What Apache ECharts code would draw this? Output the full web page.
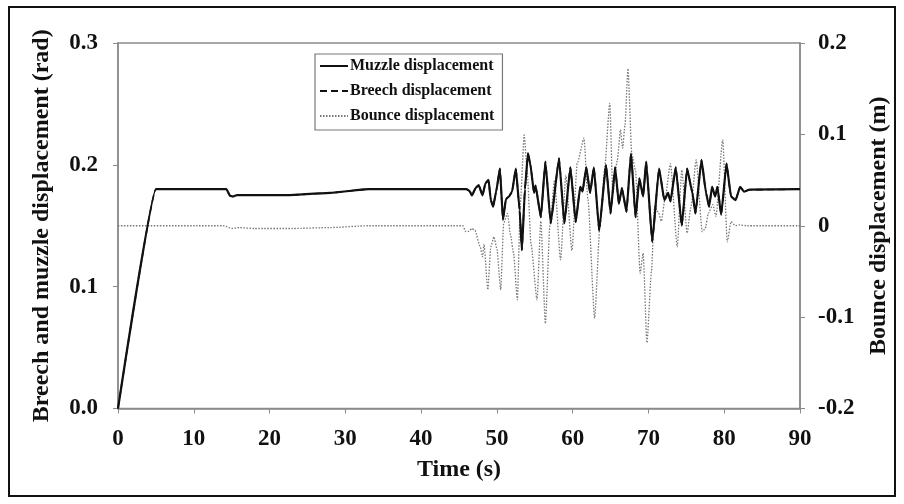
<!DOCTYPE html>
<html>
<head>
<meta charset="utf-8">
<script src="https://cdn.jsdelivr.net/npm/echarts@6/dist/echarts.min.js"></script>
<style>html,body{margin:0;padding:0;background:#fff;}#c{width:904px;height:504px;}</style>
</head>
<body>
<div id="c"></div>
<script>
// ---- data ----
var seriesNames = ['Muzzle displacement', 'Breech displacement', 'Bounce displacement'];
var xTicks = [0, 10, 20, 30, 40, 50, 60, 70, 80, 90];
var leftTicks = ['0.0', '0.1', '0.2', '0.3'];
var rightTicks = ['-0.2', '-0.1', '0', '0.1', '0.2'];

var muzzleTime = [0, 5.0, 14.3, 14.8, 15.2, 15.7, 22.7, 28, 33, 46.0, 46.4, 46.7, 47.2, 47.6, 48.1, 48.5, 48.9, 49.2, 49.5, 49.9,
  50.4, 50.8, 51.2, 51.6, 52.0, 52.5, 53.0, 53.3, 53.7, 54.1, 54.4, 54.9, 55.1, 55.8, 56.4, 57.1, 58.2, 58.9, 59.7, 60.4,
  61.0, 61.3, 61.8, 62.3, 62.8, 63.5, 64.4, 65.0, 65.6, 66.1, 66.5, 67.1, 67.7, 68.3, 68.8, 69.3, 69.7, 70.5, 71.4, 72.1,
  72.6, 72.9, 73.6, 74.4, 75.1, 75.8, 76.2, 77.0, 77.6, 78.0, 78.4, 78.8, 79.1, 79.6, 80.3, 80.9, 81.5, 82.1, 82.6, 83.3, 90];
var muzzleValue = [0, 0.18, 0.18, 0.1745, 0.174, 0.1752, 0.1752, 0.177, 0.18, 0.18, 0.1785, 0.1749, 0.181, 0.1834, 0.175, 0.185, 0.1876, 0.171, 0.1656, 0.178,
  0.197, 0.155, 0.172, 0.174, 0.178, 0.197, 0.163, 0.130, 0.180, 0.2095, 0.201, 0.177, 0.183, 0.157, 0.2026, 0.152, 0.2054, 0.152, 0.198, 0.153,
  0.182, 0.178, 0.198, 0.177, 0.198, 0.146, 0.200, 0.160, 0.198, 0.168, 0.181, 0.1614, 0.2095, 0.157, 0.189, 0.174, 0.2026, 0.137, 0.197, 0.171,
  0.177, 0.170, 0.198, 0.150, 0.197, 0.177, 0.160, 0.204, 0.177, 0.1656, 0.182, 0.174, 0.182, 0.159, 0.201, 0.174, 0.171, 0.182, 0.178, 0.1796, 0.18];

var breechTime = muzzleTime.slice();
var breechValue = [0, 0.18, 0.18, 0.1745, 0.174, 0.1752, 0.1752, 0.177, 0.18, 0.18, 0.1785, 0.1749, 0.181, 0.1834, 0.175, 0.185, 0.1876, 0.171, 0.1656, 0.178,
  0.197, 0.155, 0.172, 0.174, 0.178, 0.197, 0.163, 0.130, 0.180, 0.2095, 0.201, 0.177, 0.183, 0.157, 0.2026, 0.152, 0.2054, 0.152, 0.198, 0.153,
  0.182, 0.178, 0.198, 0.177, 0.198, 0.146, 0.200, 0.160, 0.198, 0.168, 0.181, 0.1614, 0.2095, 0.157, 0.189, 0.174, 0.2026, 0.137, 0.197, 0.171,
  0.177, 0.170, 0.198, 0.150, 0.197, 0.177, 0.160, 0.204, 0.177, 0.1656, 0.182, 0.174, 0.182, 0.159, 0.201, 0.174, 0.171, 0.182, 0.178, 0.1796, 0.18];

var bounceTime = [0, 14.0, 15.0, 16, 18, 23, 28, 33, 45.5, 45.9, 46.3, 46.7, 47.1, 47.8, 48.1, 48.3, 48.8, 49.2, 49.6, 50.0,
  50.5, 50.9, 51.4, 51.8, 52.2, 52.7, 53.1, 53.6, 54.0, 54.5, 55.3, 55.8, 56.4, 57.0, 57.6, 58.4, 59.1, 59.9, 60.6, 61.5,
  62.0, 62.9, 63.6, 64.2, 64.9, 65.3, 65.9, 66.3, 66.6, 66.9, 67.3, 67.8, 68.3, 68.9, 69.3, 69.8, 70.4, 70.8, 71.3, 71.7,
  72.2, 72.9, 73.8, 74.4, 75.1, 75.6, 76.3, 77.1, 77.5, 77.9, 78.5, 78.9, 79.8, 80.4, 80.9, 81.5, 82.0, 83.0, 90];
var bounceValue = [0, 0, -0.003, -0.002, -0.003, -0.003, -0.002, 0, 0, -0.0065, -0.006, -0.003, -0.005, -0.023, -0.034, -0.02, -0.070, -0.023, -0.012, -0.025,
  -0.070, 0.003, 0.0136, -0.01, -0.03, -0.081, 0.025, 0.0993, 0.06, -0.02, -0.081, 0.005, -0.107, 0.0, 0.05, -0.037, 0.055, -0.027, 0.068, 0.096,
  0.03, -0.101, 0.0, 0.061, 0.134, 0.035, 0.072, 0.105, 0.085, 0.11, 0.172, 0.079, 0.06, -0.052, -0.03, -0.128, -0.05, 0.021, 0.015, 0.005,
  0.03, 0.068, -0.023, 0.061, -0.008, 0.02, 0.072, -0.0065, -0.003, 0.0136, 0.023, 0.01, 0.094, -0.0175, 0.0045, 0.0, 0.001, 0, 0];

function pairs(t, v) { return t.map(function (x, i) { return [x, v[i]]; }); }

var FONT = '"Liberation Serif", "Times New Roman", serif';
var chart = echarts.init(document.getElementById('c'), null, { renderer: 'canvas' });
var axisGray = '#8a8a8a';
var tickFont = { fontFamily: FONT, fontWeight: 'bold', fontSize: 23, color: '#111' };
var titleFont = { fontFamily: FONT, fontWeight: 'bold', fontSize: 24, color: '#111' };
var option = {
  animation: false,
  backgroundColor: '#fff',
  graphic: [{
    type: 'rect', shape: { x: 9, y: 7, width: 886, height: 489 },
    style: { fill: 'none', stroke: '#111', lineWidth: 2 }, silent: true, z: 0
  }],
  grid: { left: 118, right: 104, top: 43, bottom: 95.5, show: true, borderColor: axisGray, borderWidth: 1.5, backgroundColor: 'transparent' },
  legend: {
    left: 315, top: 54, orient: 'vertical',
    data: seriesNames,
    itemWidth: 28, itemHeight: 14, itemGap: 9,
    padding: [4, 8, 6, 4],
    borderColor: '#777', borderWidth: 1.2,
    itemStyle: { opacity: 0 },
    textStyle: { fontFamily: FONT, fontWeight: 'bold', fontSize: 16, color: '#111', padding: [0, 0, 0, -3] }
  },
  xAxis: {
    type: 'value', min: 0, max: 90, interval: 10,
    name: 'Time (s)', nameLocation: 'middle', nameGap: 49,
    nameTextStyle: titleFont,
    axisLine: { lineStyle: { color: axisGray, width: 1.5 } },
    axisTick: { show: true, inside: false, length: 5, lineStyle: { color: axisGray } },
    axisLabel: Object.assign({ margin: 19,
      formatter: function (v) { return xTicks.indexOf(v) >= 0 ? String(v) : ''; } }, tickFont),
    splitLine: { show: false }
  },
  yAxis: [{
    type: 'value', min: 0, max: 0.3, interval: 0.1, position: 'left',
    name: 'Breech and muzzle displacement (rad)', nameLocation: 'middle', nameGap: 64, nameRotate: 90,
    nameTextStyle: titleFont,
    axisLine: { show: true, lineStyle: { color: axisGray, width: 1.5 } },
    axisTick: { show: true, inside: false, length: 5, lineStyle: { color: axisGray } },
    axisLabel: Object.assign({ margin: 20,
      formatter: function (v) { return leftTicks[Math.round(v * 10)]; } }, tickFont),
    splitLine: { show: false }
  }, {
    type: 'value', min: -0.2, max: 0.2, interval: 0.1, position: 'right',
    name: 'Bounce displacement (m)', nameLocation: 'middle', nameGap: 67, nameRotate: 90,
    nameTextStyle: titleFont,
    axisLine: { show: true, lineStyle: { color: axisGray, width: 1.5 } },
    axisTick: { show: true, inside: false, length: 5, lineStyle: { color: axisGray } },
    axisLabel: Object.assign({ margin: 18,
      formatter: function (v) { return rightTicks[Math.round(v * 10) + 2]; } }, tickFont),
    splitLine: { show: false }
  }],
  series: [{
    name: seriesNames[0], type: 'line', yAxisIndex: 0, data: pairs(muzzleTime, muzzleValue),
    symbol: 'none', showSymbol: false, smooth: 0.12, smoothMonotone: 'x', z: 4,
    lineStyle: { color: '#111', width: 2.2, type: 'solid' }, itemStyle: { color: '#111' }
  }, {
    name: seriesNames[1], type: 'line', yAxisIndex: 0, data: pairs(breechTime, breechValue),
    symbol: 'none', showSymbol: false, smooth: 0.12, smoothMonotone: 'x', z: 3,
    lineStyle: { color: '#111', width: 1.6, type: [7, 4] }, itemStyle: { color: '#111' }
  }, {
    name: seriesNames[2], type: 'line', yAxisIndex: 1, data: pairs(bounceTime, bounceValue),
    symbol: 'none', showSymbol: false, smooth: 0.2, smoothMonotone: 'x', z: 2,
    lineStyle: { color: '#777', width: 1.3, type: [1.5, 1.5] }, itemStyle: { color: '#777' }
  }]
};
chart.setOption(option);
</script>
</body>
</html>
